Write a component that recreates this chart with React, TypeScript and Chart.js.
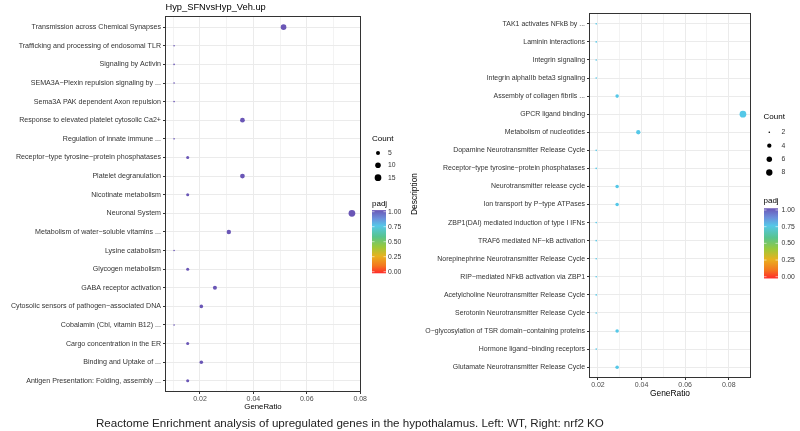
import React, { useEffect, useRef } from "react";
import { Chart, registerables } from "chart.js";
Chart.register(...registerables);

const FONT = "'Liberation Sans', Arial, Helvetica, sans-serif";

// ---------------- data ----------------
const leftTitle = "Hyp_SFNvsHyp_Veh.up";
const leftCategories = [
  "Transmission across Chemical Synapses",
  "Trafficking and processing of endosomal TLR",
  "Signaling by Activin",
  "SEMA3A\u2212Plexin repulsion signaling by ...",
  "Sema3A PAK dependent Axon repulsion",
  "Response to elevated platelet cytosolic Ca2+",
  "Regulation of innate immune ...",
  "Receptor\u2212type tyrosine\u2212protein phosphatases",
  "Platelet degranulation",
  "Nicotinate metabolism",
  "Neuronal System",
  "Metabolism of water\u2212soluble vitamins ...",
  "Lysine catabolism",
  "Glycogen metabolism",
  "GABA receptor activation",
  "Cytosolic sensors of pathogen\u2212associated DNA",
  "Cobalamin (Cbl, vitamin B12) ...",
  "Cargo concentration in the ER",
  "Binding and Uptake of ...",
  "Antigen Presentation: Folding, assembly ...",
];
const leftGeneRatio = [
  0.0513, 0.0103, 0.0103, 0.0103, 0.0103, 0.0359, 0.0103, 0.0154, 0.0359, 0.0154,
  0.0769, 0.0308, 0.0103, 0.0154, 0.0256, 0.0205, 0.0103, 0.0154, 0.0205, 0.0154,
];
const leftCount = [10, 2, 2, 2, 2, 7, 2, 3, 7, 3, 15, 6, 2, 3, 5, 4, 2, 3, 4, 3];
const leftPadj = [1, 1, 1, 1, 1, 1, 1, 1, 1, 1, 1, 1, 1, 1, 1, 1, 1, 1, 1, 1];
const leftXTicks = [0.01, 0.02, 0.03, 0.04, 0.05, 0.06, 0.07, 0.08];
const leftCountBreaks = [5, 10, 15];

const rightCategories = [
  "TAK1 activates NFkB by ...",
  "Laminin interactions",
  "Integrin signaling",
  "Integrin alphaIIb beta3 signaling",
  "Assembly of collagen fibrils ...",
  "GPCR ligand binding",
  "Metabolism of nucleotides",
  "Dopamine Neurotransmitter Release Cycle",
  "Receptor\u2212type tyrosine\u2212protein phosphatases",
  "Neurotransmitter release cycle",
  "Ion transport by P\u2212type ATPases",
  "ZBP1(DAI) mediated induction of type I IFNs",
  "TRAF6 mediated NF\u2212kB activation",
  "Norepinephrine Neurotransmitter Release Cycle",
  "RIP\u2212mediated NFkB activation via ZBP1",
  "Acetylcholine Neurotransmitter Release Cycle",
  "Serotonin Neurotransmitter Release Cycle",
  "O\u2212glycosylation of TSR domain\u2212containing proteins",
  "Hormone ligand\u2212binding receptors",
  "Glutamate Neurotransmitter Release Cycle",
];
const rightGeneRatio = [
  0.0192, 0.0192, 0.0192, 0.0192, 0.0288, 0.0865, 0.0385, 0.0192, 0.0192, 0.0288,
  0.0288, 0.0192, 0.0192, 0.0192, 0.0192, 0.0192, 0.0192, 0.0288, 0.0192, 0.0288,
];
const rightCount = [2, 2, 2, 2, 3, 9, 4, 2, 2, 3, 3, 2, 2, 2, 2, 2, 2, 3, 2, 3];
const rightPadj = [
  0.75, 0.75, 0.75, 0.75, 0.75, 0.75, 0.75, 0.75, 0.75, 0.75,
  0.75, 0.75, 0.75, 0.75, 0.75, 0.75, 0.75, 0.75, 0.75, 0.75,
];
const rightXTicks = [0.02, 0.03, 0.04, 0.05, 0.06, 0.07, 0.08, 0.09];
const rightCountBreaks = [2, 4, 6, 8];

const padjBreaks = [1.0, 0.75, 0.5, 0.25, 0.0];
const caption =
  "Reactome Enrichment analysis of upregulated genes in the hypothalamus. Left: WT, Right: nrf2 KO";

// padj colour palette (value, colour)
const padjStops: [number, string][] = [
  [0.0, "#ff2a2a"],
  [0.12, "#f4771f"],
  [0.27, "#e9b11f"],
  [0.42, "#9ac93b"],
  [0.58, "#58c48e"],
  [0.75, "#55c8e8"],
  [0.87, "#6c8edb"],
  [1.0, "#6a56b6"],
];

// ---------------- helpers ----------------
function hexToRgb(h: string) {
  const n = parseInt(h.slice(1), 16);
  return [(n >> 16) & 255, (n >> 8) & 255, n & 255];
}
function padjColor(v: number) {
  for (let i = 1; i < padjStops.length; i++) {
    const [v1, c1] = padjStops[i];
    const [v0, c0] = padjStops[i - 1];
    if (v <= v1) {
      const t = (v - v0) / (v1 - v0);
      const a = hexToRgb(c0);
      const b = hexToRgb(c1);
      const m = a.map((x, k) => Math.round(x + (b[k] - x) * t));
      return `rgb(${m[0]},${m[1]},${m[2]})`;
    }
  }
  return padjStops[padjStops.length - 1][1];
}
function sizeFn(cmin: number, cmax: number) {
  return (c: number) => 0.8 + 2.55 * Math.sqrt(Math.max(0, (c - cmin) / (cmax - cmin)));
}
const isMajor = (v: number) => Math.round(v * 100) % 2 === 0;

type LegendCfg = {
  countTitle: [number, number];
  dotX: number;
  dotYs: number[];
  labelX: number;
  padjTitle: [number, number];
  barX: number;
  barW: number;
  y1: number; // y of 1.00
  y0: number; // y of 0.00
};

function decorPlugin(cfg: {
  title?: { text: string; x: number; y: number; size: number };
  xTitle: { x: number; y: number; size: number };
  yTitle?: { x: number; y: number; size: number };
  legend: LegendCfg;
  breaks: number[];
  radius: (c: number) => number;
}) {
  return {
    id: "decor",
    afterDraw(chart: any) {
      const ctx = chart.ctx as CanvasRenderingContext2D;
      const a = chart.chartArea;
      ctx.save();
      // panel border
      ctx.strokeStyle = "#333333";
      ctx.lineWidth = 1;
      ctx.strokeRect(
        Math.round(a.left) + 0.5,
        Math.round(a.top) + 0.5,
        Math.round(a.right - a.left) - 1,
        Math.round(a.bottom - a.top) - 1
      );
      ctx.fillStyle = "#000";
      ctx.textBaseline = "middle";
      if (cfg.title) {
        ctx.font = `${cfg.title.size}px ${FONT}`;
        ctx.textAlign = "left";
        ctx.fillText(cfg.title.text, cfg.title.x, cfg.title.y);
      }
      ctx.font = `${cfg.xTitle.size}px ${FONT}`;
      ctx.textAlign = "center";
      ctx.fillText("GeneRatio", cfg.xTitle.x, cfg.xTitle.y);
      if (cfg.yTitle) {
        ctx.save();
        ctx.translate(cfg.yTitle.x, cfg.yTitle.y);
        ctx.rotate(-Math.PI / 2);
        ctx.font = `${cfg.yTitle.size}px ${FONT}`;
        ctx.fillText("Description", 0, 0);
        ctx.restore();
      }
      // legend: Count
      const L = cfg.legend;
      ctx.textAlign = "left";
      ctx.font = `8px ${FONT}`;
      ctx.fillText("Count", L.countTitle[0], L.countTitle[1]);
      cfg.breaks.forEach((b, i) => {
        ctx.beginPath();
        ctx.arc(L.dotX, L.dotYs[i], cfg.radius(b), 0, Math.PI * 2);
        ctx.fillStyle = "#000";
        ctx.fill();
        ctx.font = `6.8px ${FONT}`;
        ctx.fillStyle = "#333";
        ctx.fillText(String(b), L.labelX, L.dotYs[i]);
      });
      // legend: padj
      ctx.fillStyle = "#000";
      ctx.font = `8px ${FONT}`;
      ctx.fillText("padj", L.padjTitle[0], L.padjTitle[1]);
      const ext = (L.y0 - L.y1) / 38;
      const top = L.y1 - ext;
      const bot = L.y0 + ext;
      const g = ctx.createLinearGradient(0, bot, 0, top);
      padjStops.forEach(([v, c]) => g.addColorStop(v, c));
      ctx.fillStyle = g;
      ctx.fillRect(L.barX, top, L.barW, bot - top);
      ctx.strokeStyle = "rgba(255,255,255,0.9)";
      ctx.lineWidth = 0.6;
      padjBreaks.forEach((v) => {
        const y = L.y0 - (L.y0 - L.y1) * v;
        ctx.beginPath();
        ctx.moveTo(L.barX, y);
        ctx.lineTo(L.barX + 2.5, y);
        ctx.moveTo(L.barX + L.barW - 2.5, y);
        ctx.lineTo(L.barX + L.barW, y);
        ctx.stroke();
        ctx.fillStyle = "#333";
        ctx.font = `6.8px ${FONT}`;
        ctx.fillText(v.toFixed(2), L.labelX, y);
      });
      ctx.restore();
    },
  };
}

function buildConfig(opts: {
  categories: string[];
  ratio: number[];
  count: number[];
  padj: number[];
  xMin: number;
  xMax: number;
  xTicks: number[];
  yWidth: number;
  xHeight: number;
  padding: { left: number; right: number; top: number; bottom: number };
  labelSize: number;
  tickSize: number;
  radius: (c: number) => number;
  plugin: any;
}) {
  const n = opts.categories.length;
  return {
    type: "scatter" as const,
    data: {
      datasets: [
        {
          data: opts.ratio.map((r, i) => ({ x: r, y: i })),
          pointRadius: opts.count.map((c) => opts.radius(c)),
          pointHoverRadius: opts.count.map((c) => opts.radius(c)),
          pointBackgroundColor: opts.padj.map((p) => padjColor(p)),
          pointBorderWidth: 0,
          borderWidth: 0,
        },
      ],
    },
    options: {
      responsive: false,
      animation: false as const,
      devicePixelRatio: 1,
      events: [],
      layout: { padding: opts.padding },
      plugins: { legend: { display: false }, tooltip: { enabled: false }, title: { display: false } },
      scales: {
        x: {
          type: "linear" as const,
          min: opts.xMin,
          max: opts.xMax,
          afterBuildTicks: (s: any) => {
            s.ticks = opts.xTicks.map((v) => ({ value: v }));
          },
          afterFit: (s: any) => {
            s.height = opts.xHeight;
            s.paddingLeft = 0;
            s.paddingRight = 0;
          },
          border: { display: false },
          grid: {
            color: "#ebebeb",
            lineWidth: (c: any) => (c.tick && isMajor(c.tick.value) ? 1 : 0.6),
            tickColor: (c: any) => (c.tick && isMajor(c.tick.value) ? "#333333" : "rgba(0,0,0,0)"),
            tickLength: 2,
            drawTicks: true,
          },
          ticks: {
            autoSkip: false,
            maxRotation: 0,
            padding: 1,
            color: "#4d4d4d",
            font: { family: FONT, size: opts.tickSize },
            callback: (v: any) => (isMajor(Number(v)) ? Number(v).toFixed(2) : ""),
          },
        },
        y: {
          type: "linear" as const,
          reverse: true,
          min: -0.6,
          max: n - 1 + 0.6,
          afterBuildTicks: (s: any) => {
            s.ticks = opts.categories.map((_, i) => ({ value: i }));
          },
          afterFit: (s: any) => {
            s.width = opts.yWidth;
            s.paddingTop = 0;
            s.paddingBottom = 0;
          },
          border: { display: false },
          grid: {
            color: "#ebebeb",
            lineWidth: 1,
            tickColor: "#333333",
            tickLength: 2,
            drawTicks: true,
          },
          ticks: {
            autoSkip: false,
            padding: 2,
            color: "#333333",
            font: { family: FONT, size: opts.labelSize },
            callback: (v: any) => opts.categories[Number(v)] ?? "",
          },
        },
      },
    },
    plugins: [opts.plugin],
  };
}

export default function App() {
  const leftRef = useRef<HTMLCanvasElement>(null);
  const rightRef = useRef<HTMLCanvasElement>(null);

  useEffect(() => {
    const leftRadius = sizeFn(Math.min(...leftCount), Math.max(...leftCount));
    const rightRadius = sizeFn(Math.min(...rightCount), Math.max(...rightCount));

    const leftPlugin = decorPlugin({
      title: { text: leftTitle, x: 165.5, y: 7.5, size: 9.3 },
      xTitle: { x: 263, y: 407, size: 7.8 },
      legend: {
        countTitle: [372, 139],
        dotX: 378,
        dotYs: [153, 165.3, 177.7],
        labelX: 388,
        padjTitle: [372, 204],
        barX: 372,
        barW: 14,
        y1: 211.7,
        y0: 271.7,
      },
      breaks: leftCountBreaks,
      radius: leftRadius,
    });
    const rightPlugin = decorPlugin({
      xTitle: { x: 270, y: 394, size: 8.4 },
      yTitle: { x: 15, y: 194, size: 8.4 },
      legend: {
        countTitle: [363.5, 116.7],
        dotX: 369.3,
        dotYs: [132.3, 145.7, 159.3, 172.5],
        labelX: 381.5,
        padjTitle: [363.5, 200.5],
        barX: 364,
        barW: 14,
        y1: 210,
        y0: 276.7,
      },
      breaks: rightCountBreaks,
      radius: rightRadius,
    });

    const left = new Chart(
      leftRef.current as HTMLCanvasElement,
      buildConfig({
        categories: leftCategories,
        ratio: leftGeneRatio,
        count: leftCount,
        padj: leftPadj,
        xMin: 0.0069,
        xMax: 0.0803,
        xTicks: leftXTicks,
        yWidth: 165,
        xHeight: 39,
        padding: { left: 0, right: 49, top: 16, bottom: 0 },
        labelSize: 7.1,
        tickSize: 7,
        radius: leftRadius,
        plugin: leftPlugin,
      }) as any
    );
    const right = new Chart(
      rightRef.current as HTMLCanvasElement,
      buildConfig({
        categories: rightCategories,
        ratio: rightGeneRatio,
        count: rightCount,
        padj: rightPadj,
        xMin: 0.0159,
        xMax: 0.0902,
        xTicks: rightXTicks,
        yWidth: 189,
        xHeight: 53,
        padding: { left: 0, right: 49, top: 13, bottom: 0 },
        labelSize: 6.95,
        tickSize: 7,
        radius: rightRadius,
        plugin: rightPlugin,
      }) as any
    );
    return () => {
      left.destroy();
      right.destroy();
    };
  }, []);

  return (
    <div
      style={{
        position: "fixed",
        left: 0,
        top: 0,
        width: 800,
        height: 431,
        background: "#ffffff",
        overflow: "hidden",
      }}
    >
      <canvas
        ref={leftRef}
        width={410}
        height={431}
        style={{ position: "absolute", left: 0, top: 0, width: 410, height: 431 }}
      />
      <canvas
        ref={rightRef}
        width={400}
        height={431}
        style={{ position: "absolute", left: 400, top: 0, width: 400, height: 431 }}
      />
      <div
        style={{
          position: "absolute",
          left: 96,
          top: 415,
          fontFamily: FONT,
          fontSize: 11.6,
          lineHeight: "16px",
          color: "#222222",
          whiteSpace: "nowrap",
        }}
      >
        {caption}
      </div>
    </div>
  );
}
